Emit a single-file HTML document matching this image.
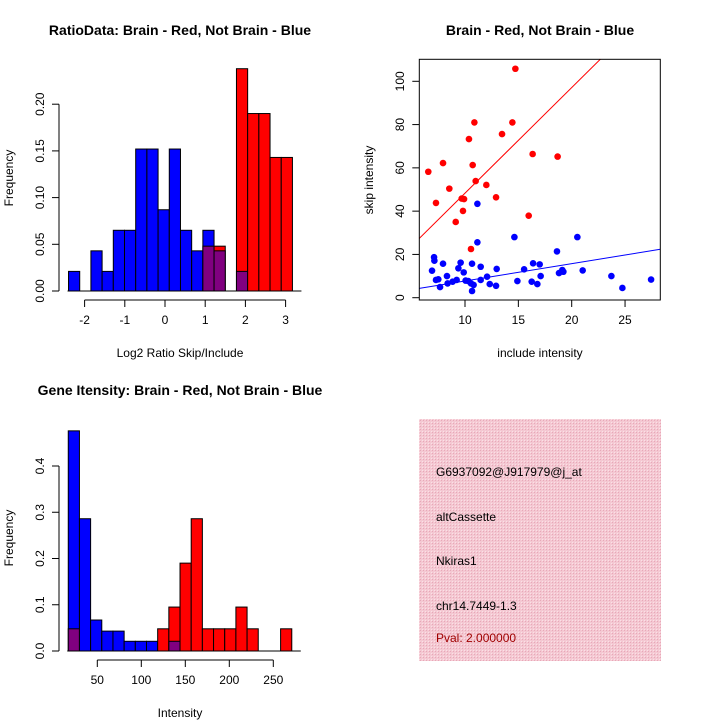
<!DOCTYPE html>
<html><head><meta charset="utf-8"><style>
body{margin:0;background:#fff}
svg{display:block;font-family:"Liberation Sans",sans-serif}
</style></head><body>
<svg id="c" width="720" height="720" viewBox="0 0 720 720">
<defs>
<pattern id="hatch" width="3" height="3" patternUnits="userSpaceOnUse">
<rect width="3" height="3" fill="#f4c8d2"/><rect width="1" height="1" fill="#e8a8b8"/><rect x="2" y="2" width="1" height="1" fill="#fbe0e6"/>
</pattern>
</defs>
<text x="180" y="35" font-size="14" font-weight="bold" text-anchor="middle">RatioData: Brain - Red, Not Brain - Blue</text>
<text x="540" y="35" font-size="14" font-weight="bold" text-anchor="middle">Brain - Red, Not Brain - Blue</text>
<text x="180" y="395" font-size="14" font-weight="bold" text-anchor="middle">Gene Itensity: Brain - Red, Not Brain - Blue</text>
<text x="180" y="357" font-size="12" text-anchor="middle">Log2 Ratio Skip/Include</text>
<text x="540" y="357" font-size="12" text-anchor="middle">include intensity</text>
<text x="180" y="717" font-size="12" text-anchor="middle">Intensity</text>
<text transform="translate(13,178) rotate(-90)" font-size="12" text-anchor="middle">Frequency</text>
<text transform="translate(373,180) rotate(-90)" font-size="12" text-anchor="middle">skip intensity</text>
<text transform="translate(13,538) rotate(-90)" font-size="12" text-anchor="middle">Frequency</text>
<g>
<rect x="419" y="419" width="242" height="242" fill="url(#hatch)"/>
<text x="436" y="476" font-size="12">G6937092@J917979@j_at</text>
<text x="436" y="521" font-size="12">altCassette</text>
<text x="436" y="565" font-size="12">Nkiras1</text>
<text x="436" y="610" font-size="12">chr14.7449-1.3</text>
<text x="436" y="642" font-size="12" fill="#a00000">Pval: 2.000000</text>
</g>
<g id="g1"></g><g id="g2"></g><g id="g3"></g>
</svg>
<script>
// Ratio histogram data
const ratioBinStart = -2.4;
const ratioBinWidth = 0.2785;
const ratioBlue = [0.021,0,0.043,0.021,0.065,0.065,0.152,0.152,0.087,0.152,0.065,0.043,0.065,0.043,0,0.021,0,0,0,0];
const ratioRed  = [0,0,0,0,0,0,0,0,0,0,0,0,0.048,0.048,0,0.238,0.19,0.19,0.143,0.143];
const ratioXTicks = [-2,-1,0,1,2,3];
const ratioYTicks = ["0.00","0.05","0.10","0.15","0.20"];
// Intensity histogram data
const intBinStart = 17;
const intBinWidth = 12.7;
const intBlue = [0.476,0.286,0.067,0.043,0.043,0.021,0.021,0.021,0,0.021,0,0,0,0,0,0,0,0,0,0];
const intRed  = [0.048,0,0,0,0,0,0,0,0.048,0.095,0.19,0.286,0.048,0.048,0.048,0.095,0.048,0,0,0.048];
const intXTicks = [50,100,150,200,250];
const intYTicks = ["0.0","0.1","0.2","0.3","0.4"];
// Scatter data
const redX = [6.56,7.28,7.94,8.53,9.13,9.69,9.91,9.81,10.37,10.72,10.88,11.0,10.56,12.0,12.91,13.47,14.44,14.72,15.97,16.34,18.68];
const redY = [58.2,43.8,62.2,50.4,35.0,45.8,45.6,40.1,73.3,61.3,81.0,53.9,22.5,52.1,46.4,75.6,81.0,105.8,37.9,66.4,65.2];
const blueX = [6.91,7.10,7.13,7.28,7.50,7.66,7.94,8.31,8.37,8.84,9.22,9.38,9.59,9.88,10.06,10.31,10.56,10.66,10.66,10.81,11.16,11.16,11.47,11.47,12.07,12.32,12.91,12.97,14.63,14.91,15.54,16.25,16.38,16.78,17.0,17.09,18.62,18.81,19.12,19.22,20.53,21.03,23.72,24.75,27.44];
const blueY = [12.5,18.7,17.1,8.2,8.5,4.9,15.7,10.0,6.6,7.4,8.2,13.6,16.2,11.7,7.9,7.7,6.6,15.7,3.1,5.9,43.4,25.6,14.3,8.2,9.7,6.3,5.5,13.3,28.0,7.7,13.1,7.4,15.9,6.3,15.4,10.0,21.4,11.4,12.8,12.0,28.0,12.6,10.0,4.5,8.4];
const redFit = [-0.5,4.88];
const blueFit = [-0.27,0.80];
const scXTicks = [10,15,20,25];
const scYTicks = [0,20,40,60,80,100];

const NS="http://www.w3.org/2000/svg";
function mk(p,t,a){const e=document.createElementNS(NS,t);for(const k in a)e.setAttribute(k,a[k]);p.appendChild(e);return e;}

function hist(g,binStart,bw,blue,red,xs,ys,sx,sy,y0,xTickY,yTickVals,ymaxLabelStep){
  for(let i=0;i<blue.length;i++){
    const b=blue[i],r=red[i];
    const x0=sx(binStart+i*bw),x1=sx(binStart+(i+1)*bw);
    const mx=Math.max(b,r),mn=Math.min(b,r);
    if(mx>0){
      const e=mk(g,'rect',{x:x0,y:sy(mx),width:x1-x0,height:sy(0)-sy(mx),fill:b>=r?'#0000ff':'#ff0000',stroke:'#000','stroke-width':1});
      
      
    }
    if(mn>0){
      const e=mk(g,'rect',{x:x0,y:sy(mn),width:x1-x0,height:sy(0)-sy(mn),fill:'#800080',stroke:'#000','stroke-width':1});
      
      
    }
  }
  // baseline
  mk(g,'line',{x1:sx(binStart)-1,x2:sx(binStart+blue.length*bw)+9,y1:sy(0),y2:sy(0),stroke:'#000'});
  // x axis
  const xa=mk(g,'g',{});
  
  
  mk(xa,'line',{x1:sx(xs[0]),x2:sx(xs[xs.length-1]),y1:xTickY,y2:xTickY,stroke:'#000'});
  xs.forEach(v=>{mk(xa,'line',{x1:sx(v),x2:sx(v),y1:xTickY,y2:xTickY+7,stroke:'#000'});
    const t=mk(xa,'text',{x:sx(v),y:xTickY+24,'font-size':12,'text-anchor':'middle'});t.textContent=v;});
  const ya=mk(g,'g',{});
  
  
  const yv=yTickVals.map(Number);
  mk(ya,'line',{x1:59,x2:59,y1:sy(yv[0]),y2:sy(yv[yv.length-1]),stroke:'#000'});
  yTickVals.forEach(s=>{const v=+s;mk(ya,'line',{x1:52,x2:59,y1:sy(v),y2:sy(v),stroke:'#000'});
    const t=mk(ya,'text',{transform:`translate(44,${sy(v)}) rotate(-90)`,'font-size':12,'text-anchor':'middle'});t.textContent=s;});
}

// Ratio histogram
{
  const g=document.getElementById('g1');
  
  
  const sx=v=>165+(v)*40.2;
  const sy=v=>291-v*934;
  hist(g,ratioBinStart,ratioBinWidth,ratioBlue,ratioRed,ratioXTicks,ratioYTicks,sx,sy,291,300,ratioYTicks);
}
// Intensity histogram
{
  const g=document.getElementById('g3');
  
  
  const sx=v=>97.3+(v-50)*0.88;
  const sy=v=>651-v*462.5;
  hist(g,intBinStart,intBinWidth,intBlue,intRed,intXTicks,intYTicks,sx,sy,651,660,intYTicks);
}
// Scatter
{
  const g=document.getElementById('g2');
  
  
  const sx=v=>465+(v-10)*10.67;
  const sy=v=>297.7-v*2.164;
  const L=419.3,R=660.3,T=59.3,B=300;
  const cp=mk(g,'clipPath',{id:'scclip'});mk(cp,'rect',{x:L,y:T,width:R-L,height:B-T});
  const xmin=(L-465)/10.67+10,xmax=(R-465)/10.67+10;
  [[redFit,'#ff0000','red-fit-line'],[blueFit,'#0000ff','blue-fit-line']].forEach(([f,c,n])=>{
    const e=mk(g,'line',{x1:sx(xmin),y1:sy(f[0]+f[1]*xmin),x2:sx(xmax),y2:sy(f[0]+f[1]*xmax),stroke:c,'clip-path':'url(#scclip)'});
    
    
  });
  redX.forEach((x,i)=>{const e=mk(g,'circle',{cx:sx(x),cy:sy(redY[i]),r:3.3,fill:'#ff0000'});
    
    });
  blueX.forEach((x,i)=>{const e=mk(g,'circle',{cx:sx(x),cy:sy(blueY[i]),r:3.3,fill:'#0000ff'});
    
    });
  const fr=mk(g,'rect',{x:L,y:T,width:R-L,height:B-T,fill:'none',stroke:'#000'});
  
  
  scXTicks.forEach(v=>{mk(g,'line',{x1:sx(v),x2:sx(v),y1:B,y2:B+7,stroke:'#000'});
    const t=mk(g,'text',{x:sx(v),y:B+24,'font-size':12,'text-anchor':'middle'});t.textContent=v;});
  scYTicks.forEach(v=>{mk(g,'line',{x1:L-7,x2:L,y1:sy(v),y2:sy(v),stroke:'#000'});
    const t=mk(g,'text',{transform:`translate(404,${sy(v)}) rotate(-90)`,'font-size':12,'text-anchor':'middle'});t.textContent=v;});
}
</script>
</body></html>
